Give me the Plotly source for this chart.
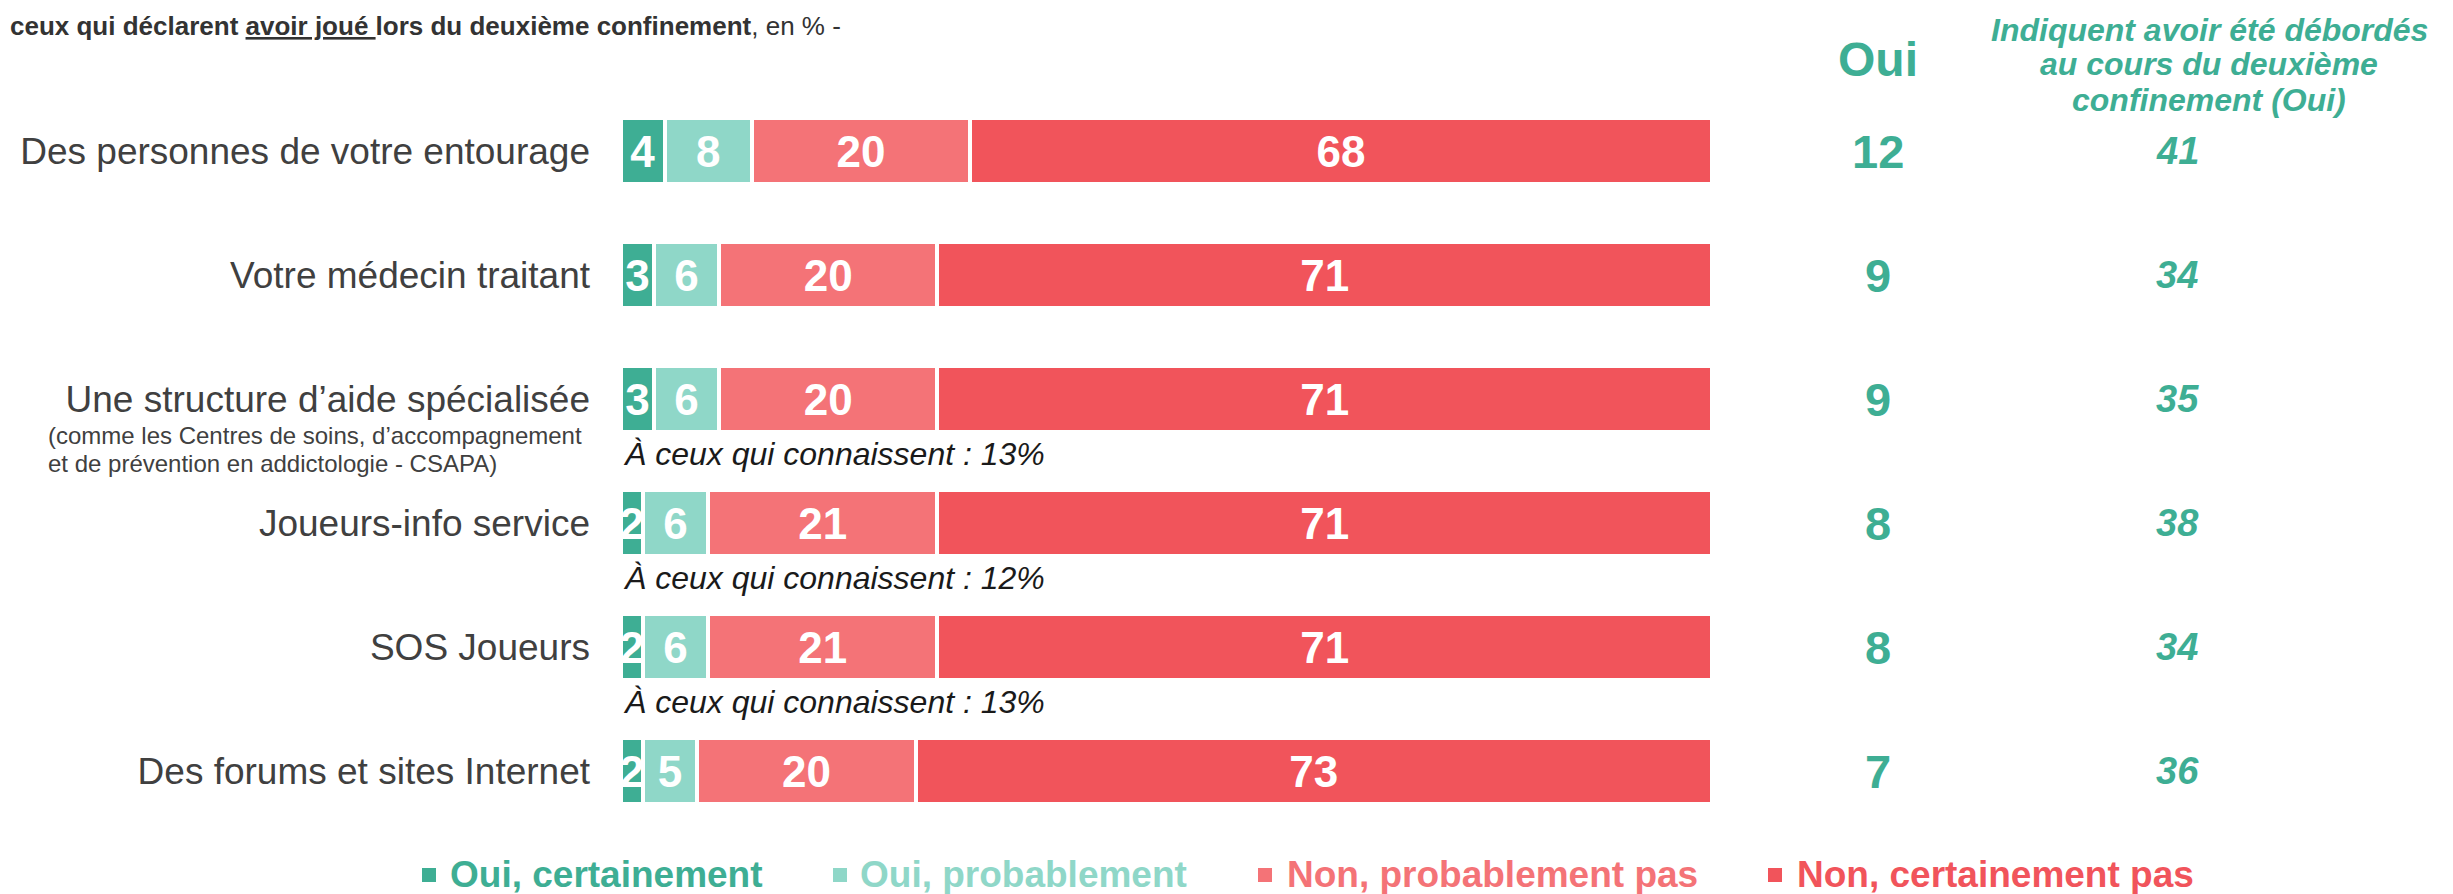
import plotly.graph_objects as go

# ---------------- data ----------------
categories = [
    "Des personnes de votre entourage",
    "Votre médecin traitant",
    "Une structure d’aide spécialisée",
    "Joueurs-info service",
    "SOS Joueurs",
    "Des forums et sites Internet",
]
series_names = ["Oui, certainement", "Oui, probablement",
                "Non, probablement pas", "Non, certainement pas"]
oui_certainement = [4, 3, 3, 2, 2, 2]
oui_probablement = [8, 6, 6, 6, 6, 5]
non_probablement = [20, 20, 20, 21, 21, 20]
non_certainement = [68, 71, 71, 71, 71, 73]
total_oui = [12, 9, 9, 8, 8, 7]
debordes_oui = [41, 34, 35, 38, 34, 36]
notes = [None, None, "À ceux qui connaissent : 13%",
         "À ceux qui connaissent : 12%", "À ceux qui connaissent : 13%", None]

colors = ["#3EAE94", "#8FD7C8", "#F47377", "#F1545B"]
FONT = "Liberation Sans, Arial, sans-serif"
GRAY = "#404040"

# ---------------- geometry helpers (screen pixels -> paper) ----------------
W, H = 2453, 894
OFF = 8                         # page body margin offset
PL, PR = 621 - OFF, 1712 - OFF  # plot area x extent (figure px)
PT, PB = 89 - OFF, 833 - OFF    # plot area y extent (figure px)


def xp(px):
    return (px - OFF - PL) / (PR - PL)


def yp(py):
    return (PB - (py - OFF)) / (PB - PT)


fig = go.Figure()
for name, vals, col in zip(series_names,
                           [oui_certainement, oui_probablement, non_probablement, non_certainement],
                           colors):
    fig.add_trace(go.Bar(
        y=categories, x=vals, name=name, orientation="h",
        marker=dict(color=col, line=dict(color="white", width=4)),
        text=vals, texttemplate="%{x}", textposition="inside",
        insidetextanchor="middle", textangle=0,
        textfont=dict(family=FONT, size=44, color="white", weight="bold"),
        hoverinfo="skip", showlegend=False,
    ))

ann = []
# title (truncated as in the source)
ann.append(dict(
    text="<b>ceux qui déclarent <span style='text-decoration:underline'>avoir joué </span>lors du deuxième confinement</b>, en % -",
    x=xp(8), y=yp(26), xref="paper", yref="paper", xanchor="left", yanchor="middle",
    showarrow=False, font=dict(family=FONT, size=26, color="#333333")))

# column headers
ann.append(dict(text="<b>Oui</b>", x=xp(1878), y=yp(60), xref="paper", yref="paper",
                xanchor="center", yanchor="middle", showarrow=False,
                font=dict(family=FONT, size=48, color=colors[0])))
for line, py in zip(["Indiquent avoir été débordés", "au cours du deuxième", "confinement (Oui)"],
                    [30, 64, 100]):
    ann.append(dict(text="<b><i>%s</i></b>" % line, x=xp(2209), y=yp(py), xref="paper", yref="paper",
                    xanchor="center", yanchor="middle", showarrow=False,
                    font=dict(family=FONT, size=32, color=colors[0])))

# per-row values
for cat, v, d, note in zip(categories, total_oui, debordes_oui, notes):
    ann.append(dict(text="<b>%d</b>" % v, x=xp(1878), y=cat, xref="paper", yref="y",
                    xanchor="center", yanchor="middle", showarrow=False,
                    font=dict(family=FONT, size=47, color=colors[0])))
    ann.append(dict(text="<b><i>%d</i></b>" % d, x=xp(2177), y=cat, xref="paper", yref="y",
                    xanchor="center", yanchor="middle", showarrow=False,
                    font=dict(family=FONT, size=38, color=colors[0])))
    if note:
        ann.append(dict(text="<i>%s</i>" % note, x=0, y=cat, xref="x", yref="y",
                        xanchor="left", yanchor="middle", yshift=-55, showarrow=False,
                        font=dict(family=FONT, size=32, color="#1A1A1A")))

# sub-caption for the "structure" row
for line, py in zip(["(comme les Centres de soins, d’accompagnement",
                     "et de prévention en addictologie - CSAPA)"], [435, 463]):
    ann.append(dict(text=line, x=xp(46), y=yp(py), xref="paper", yref="paper",
                    xanchor="left", yanchor="middle", showarrow=False,
                    font=dict(family=FONT, size=24, color=GRAY)))

# custom legend
shapes = []
leg_sq = [422, 833, 1258, 1768]
leg_tx = [448, 858, 1285, 1795]
for name, col, sx, tx in zip(series_names, colors, leg_sq, leg_tx):
    shapes.append(dict(type="rect", xref="paper", yref="paper",
                       x0=xp(sx), x1=xp(sx + 14), y0=yp(882), y1=yp(868),
                       fillcolor=col, line=dict(width=0)))
    ann.append(dict(text="<b>%s</b>" % name, x=xp(tx), y=yp(874), xref="paper", yref="paper",
                    xanchor="left", yanchor="middle", showarrow=False,
                    font=dict(family=FONT, size=37, color=col)))

fig.update_layout(
    width=W, height=H,
    margin=dict(l=PL, r=W - PR, t=PT, b=H - PB, pad=0),
    paper_bgcolor="white", plot_bgcolor="white",
    barmode="stack", bargap=0.46,
    uniformtext=dict(minsize=44, mode="show"),
    xaxis=dict(range=[0, 100], visible=False, fixedrange=True),
    yaxis=dict(type="category", categoryorder="array", categoryarray=categories,
               range=[5.5, -0.5], showgrid=False, zeroline=False, showline=False,
               ticks="", ticklabelstandoff=30,
               tickfont=dict(family=FONT, size=37, color=GRAY), fixedrange=True),
    annotations=ann, shapes=shapes, showlegend=False,
)

fig.write_html("out.html")
